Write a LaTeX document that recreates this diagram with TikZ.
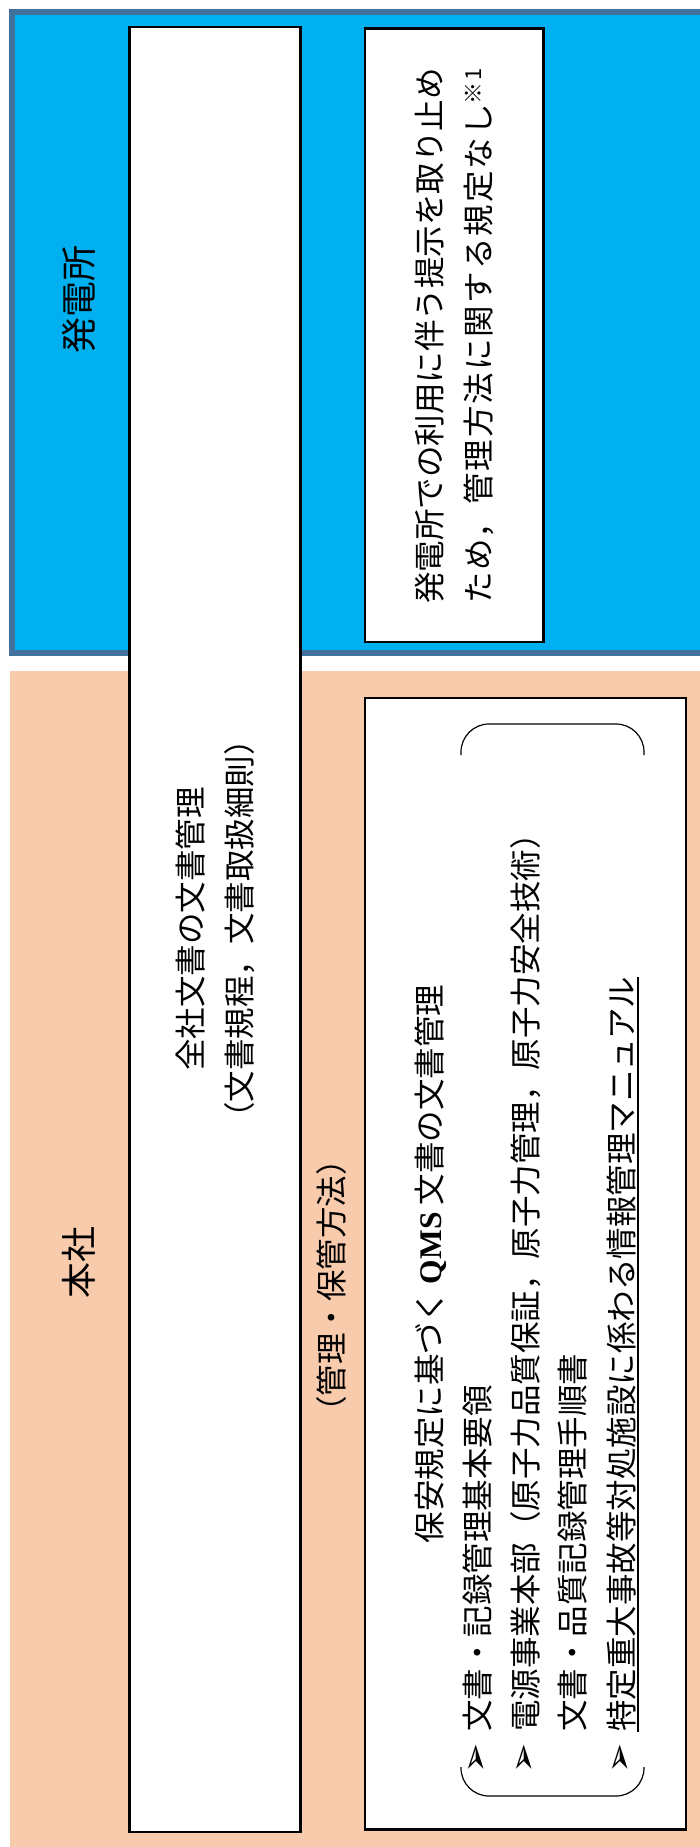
\documentclass[tikz,border=0pt]{standalone}
\usepackage{fontspec}
\setmainfont{Noto Sans CJK JP}
\newfontfamily\latinfont{Liberation Serif}
\newfontfamily\symfont{DejaVu Sans}
\newfontfamily\halffont[RawFeature=+halt]{Noto Sans CJK JP}
\usetikzlibrary{calc}
\usetikzlibrary{positioning}
\definecolor{siteblue}{RGB}{0,176,240}
\definecolor{siteedge}{RGB}{65,113,156}
\definecolor{hqorange}{RGB}{248,203,173}
\tikzstyle{docbox} = [draw, line width=2.5pt, fill=white]
\tikzstyle{vtext} = [rotate=90, inner sep=0pt, font=\fontsize{31.5}{40}\selectfont, text height=27.7pt, text depth=3.8pt]
\tikzstyle{areatext} = [rotate=90, inner sep=0pt, font=\fontsize{36}{44}\selectfont]
\tikzstyle{bulletmark} = [rotate=90, inner sep=0pt, font=\symfont\fontsize{36}{40}\selectfont]
\tikzstyle{bracketline} = [line width=1.2pt, rounded corners=28pt]
\newcommand{\hp}[1]{{\halffont #1}}

\begin{document}
\begin{tikzpicture}[x=1pt, y=-1pt]
\useasboundingbox (0,0) rectangle (699,1847);
% areas
\draw[draw=siteedge, line width=6pt, fill=siteblue] (12,11.5) rectangle (720,653);
\fill[hqorange] (10,671) rectangle (720,1860);
\node[areatext] (sitelabel) at (79,299) {発電所};
\node[areatext] (hqlabel) at (79,1262) {本社};

% company-wide column
\draw[docbox] (129.5,27) rectangle (300.5,1832);
\node[vtext] (allco) at (191,929) {全社文書の文書管理};
\node[vtext] (allcorule) at (240,929) {\hp{（}文書規程，文書取扱細則\hp{）}};
\node[vtext] (method) at (332,1286) {\hp{（}管理・保管方法\hp{）}};

% site box
\draw[docbox] (365,28.5) rectangle (543.5,642);
\node[vtext, anchor=west] (siteline) at (430,604) {発電所での利用に伴う提示を取り止め};
\node[vtext, anchor=west] (sitenote) at (479,604) {\addfontfeatures{LetterSpace=6.5}ため，管理方法に関する規定なし\textsuperscript{※1}};

% QMS box
\draw[docbox] (365,698) rectangle (686,1829.5);
\node[vtext] (qms) at (430,1264) {保安規定に基づく {\latinfont\bfseries QMS} 文書の文書管理};
\node[vtext, anchor=west] (itemA) at (478,1732) {文書・記録管理基本要領};
\node[vtext, anchor=west] (itemB) at (526,1732) {電源事業本部（原子力品質保証，原子力管理，原子力安全技術）};
\node[vtext, anchor=west] (itemBb) at (573,1732) {文書・品質記録管理手順書};
\node[vtext, anchor=west] (itemC) at (622,1732) {特定重大事故等対処施設に係わる情報管理マニュアル};
\draw[line width=1.5pt] (itemC.south west) -- (itemC.south east);
\node[bulletmark] (markA) at (478,1758) {➢};
\node[bulletmark] (markB) at (526,1758) {➢};
\node[bulletmark] (markC) at (622,1758) {➢};
\draw[bracketline] (461,755) -- (461,724) -- (644,724) -- (644,755);
\draw[bracketline] (461,1767) -- (461,1796) -- (644,1796) -- (644,1767);
\end{tikzpicture}
\end{document}
